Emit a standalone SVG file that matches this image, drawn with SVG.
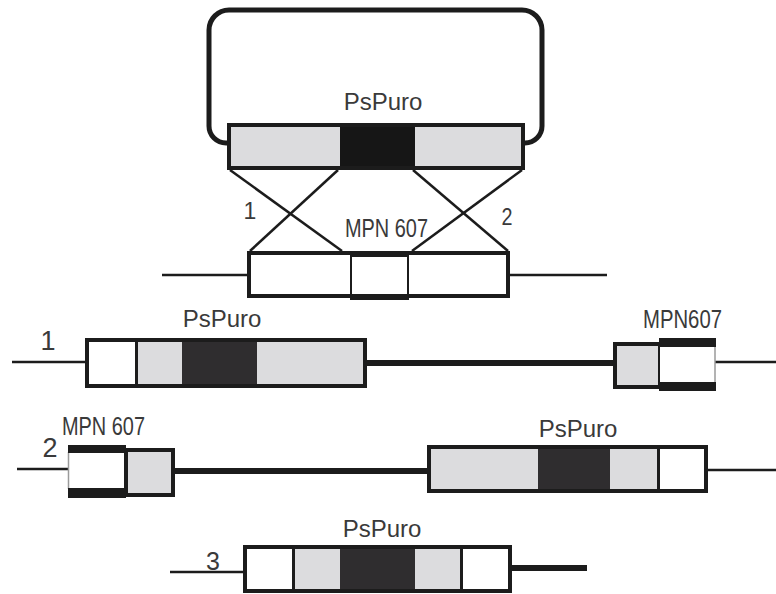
<svg xmlns="http://www.w3.org/2000/svg" width="776" height="594" viewBox="0 0 776 594">
<style>
.t{font-family:"Liberation Sans",Arial,sans-serif;fill:#3a3a3a}
.lg{fill:#dcdcde}
.dk{fill:#2f2d2f}
.wh{fill:#ffffff}
.ol{fill:none;stroke:#1c1c1c;stroke-width:4}
.thin{stroke:#1c1c1c;stroke-width:2.5;fill:none}
.thick{stroke:#1c1c1c;stroke-width:6;fill:none}
.bar{fill:#1c1c1c}
</style>
<rect width="776" height="594" fill="#ffffff"/>

<g id="connectors">
  <path d="M227 143 H226 A17 17 0 0 1 209 126 V30 A20 20 0 0 1 229 10 H522 A20 20 0 0 1 542 30 V126 A17 17 0 0 1 525 143 H523" fill="none" stroke="#1c1c1c" stroke-width="5"/>
  <line class="thin" x1="230" y1="170" x2="342" y2="251"/>
  <line class="thin" x1="338" y1="170" x2="250" y2="251"/>
  <line class="thin" x1="413" y1="170" x2="508" y2="251"/>
  <line class="thin" x1="522" y1="170" x2="412" y2="251"/>
  <line class="thin" x1="162" y1="275" x2="248" y2="275"/>
  <line class="thin" x1="509" y1="275" x2="607" y2="275"/>
  <line class="thin" x1="12" y1="362" x2="86" y2="362"/>
  <line class="thick" x1="366" y1="363" x2="614" y2="363"/>
  <line class="thin" x1="715" y1="362" x2="776" y2="362"/>
  <line class="thin" x1="17" y1="469" x2="69" y2="469"/>
  <line class="thick" x1="174" y1="471" x2="428" y2="471"/>
  <line class="thin" x1="707" y1="470" x2="776" y2="470"/>
  <line class="thin" x1="170" y1="572" x2="244" y2="572"/>
  <line class="thick" x1="511" y1="568" x2="587" y2="568"/>
</g>

<g id="plasmid-cassette">
  <rect class="lg" x="229" y="125" width="111" height="43"/>
  <rect x="340" y="123" width="75" height="47" fill="#161616"/>
  <rect class="lg" x="415" y="125" width="108" height="43"/>
  <rect class="ol" x="229" y="125" width="294" height="43"/>
  <text class="t" x="383" y="110" font-size="24" text-anchor="middle">PsPuro</text>
</g>

<g id="label-1-top"><text class="t" x="250" y="219" font-size="23" text-anchor="middle">1</text></g>
<g id="label-2-top"><text class="t" x="507" y="225" font-size="24" text-anchor="middle" textLength="11" lengthAdjust="spacingAndGlyphs">2</text></g>

<g id="genomic-locus">
  <rect class="ol" x="249" y="253" width="259" height="43" stroke-width="3.5"/>
  <rect x="351" y="253" width="57" height="44" fill="#fff" stroke="#1c1c1c" stroke-width="2"/>
  <rect class="bar" x="350" y="251" width="59" height="6"/>
  <rect class="bar" x="350" y="294" width="59" height="6"/>
  <text class="t" x="345" y="237" font-size="25" textLength="83" lengthAdjust="spacingAndGlyphs">MPN 607</text>
</g>

<g id="product-1">
  <rect class="wh" x="87" y="340" width="49" height="46"/>
  <rect class="lg" x="136" y="340" width="46" height="46"/>
  <rect class="dk" x="182" y="340" width="75" height="46"/>
  <rect class="lg" x="257" y="340" width="108" height="46"/>
  <rect class="ol" x="87" y="340" width="278" height="46"/>
  <line x1="136.5" y1="340" x2="136.5" y2="386" stroke="#1c1c1c" stroke-width="3"/>
  <text class="t" x="48" y="350" font-size="27" text-anchor="middle">1</text>
  <text class="t" x="222" y="327" font-size="24" text-anchor="middle">PsPuro</text>
</g>

<g id="product-1-mpn607">
  <rect class="lg" x="615" y="344" width="45" height="43"/>
  <rect class="ol" x="615" y="344" width="45" height="43"/>
  <rect class="wh" x="660" y="346" width="55" height="37"/>
  <line x1="715" y1="346" x2="715" y2="383" stroke="#9a9a9a" stroke-width="1.5"/>
  <rect class="bar" x="659" y="338" width="57" height="9"/>
  <rect class="bar" x="659" y="382" width="57" height="9"/>
  <text class="t" x="643" y="328" font-size="25" textLength="79" lengthAdjust="spacingAndGlyphs">MPN607</text>
</g>

<g id="product-2-mpn607">
  <rect class="wh" x="68" y="452" width="57" height="37"/>
  <line x1="68.5" y1="452" x2="68.5" y2="489" stroke="#9a9a9a" stroke-width="1.5"/>
  <rect class="bar" x="68" y="445" width="58" height="8"/>
  <rect class="bar" x="68" y="488" width="58" height="10"/>
  <rect class="lg" x="126" y="450" width="47" height="45"/>
  <rect class="ol" x="126" y="450" width="47" height="45"/>
  <text class="t" x="50" y="457" font-size="27" text-anchor="middle">2</text>
  <text class="t" x="62" y="435" font-size="25" textLength="83" lengthAdjust="spacingAndGlyphs">MPN 607</text>
</g>

<g id="product-2">
  <rect class="lg" x="429" y="447" width="109" height="44"/>
  <rect class="dk" x="538" y="445" width="72" height="46"/>
  <rect class="lg" x="610" y="447" width="48" height="44"/>
  <rect class="wh" x="658" y="447" width="48" height="44"/>
  <rect class="ol" x="429" y="447" width="277" height="44"/>
  <line x1="658.5" y1="447" x2="658.5" y2="491" stroke="#1c1c1c" stroke-width="3"/>
  <text class="t" x="578" y="437" font-size="24" text-anchor="middle">PsPuro</text>
</g>

<g id="product-3">
  <rect class="wh" x="245" y="547" width="48" height="44"/>
  <rect class="lg" x="293" y="547" width="47" height="44"/>
  <rect class="dk" x="340" y="547" width="75" height="45"/>
  <rect class="lg" x="415" y="547" width="46" height="44"/>
  <rect class="wh" x="461" y="547" width="49" height="44"/>
  <rect class="ol" x="245" y="547" width="265" height="44"/>
  <line x1="293.5" y1="547" x2="293.5" y2="591" stroke="#1c1c1c" stroke-width="3"/>
  <line x1="461.5" y1="547" x2="461.5" y2="591" stroke="#1c1c1c" stroke-width="3"/>
  <text class="t" x="213" y="570" font-size="25" text-anchor="middle">3</text>
  <text class="t" x="382" y="537" font-size="24" text-anchor="middle">PsPuro</text>
</g>
</svg>
